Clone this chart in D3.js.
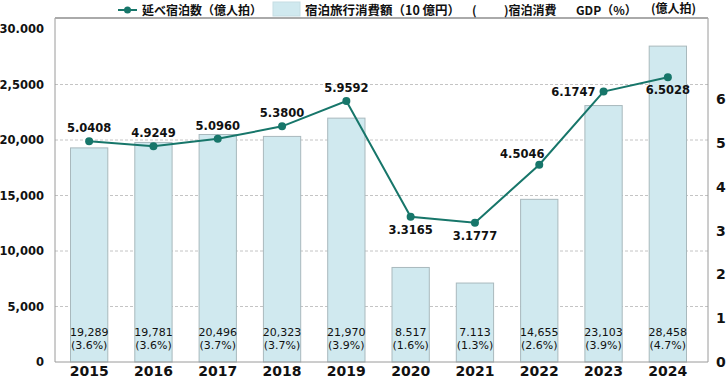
<!DOCTYPE html>
<html><head><meta charset="utf-8">
<script src="https://cdn.jsdelivr.net/npm/d3@7/dist/d3.min.js"></script>
<style>
html,body{margin:0;padding:0;background:#fff;}
svg{display:block;}
text{font-family:"DejaVu Sans",Verdana,sans-serif;}
.jp{font-family:"Noto Sans CJK JP","DejaVu Sans",sans-serif;}
</style></head>
<body><svg id="c" width="727" height="382"></svg>
<script>
const years = ["2015","2016","2017","2018","2019","2020","2021","2022","2023","2024"];
const spending = [19289, 19781, 20496, 20323, 21970, 8517, 7113, 14655, 23103, 28458];
const spendingLabels = ["19,289","19,781","20,496","20,323","21,970","8.517","7.113","14,655","23,103","28,458"];
const gdpShare = ["3.6%","3.6%","3.7%","3.7%","3.9%","1.6%","1.3%","2.6%","3.9%","4.7%"];
const nights = [5.0408, 4.9249, 5.0960, 5.3800, 5.9592, 3.3165, 3.1777, 4.5046, 6.1747, 6.5028];
const nightsLabels = ["5.0408","4.9249","5.0960","5.3800","5.9592","3.3165","3.1777","4.5046","6.1747","6.5028"];
const leftTicks = [0, 5000, 10000, 15000, 20000, 25000, 30000];
const leftTickLabels = ["0","5,000","10,000","15,000","20,000","2,5000","30.000"];
const rightTicks = [0, 1, 2, 3, 4, 5, 6];

const svg = d3.select("#c");
const L = 55, R = 708, T = 18, B = 362;
const barColor = "#d0e9ef", barStroke = "#a9b9bd", lineColor = "#17766a";

const x = d3.scaleBand().domain(years).range([57, 700]).paddingInner(0.42).paddingOuter(0.21);
const yL = d3.scaleLinear().domain([0, 30000]).range([B, 29]);
const yR = d3.scaleLinear().domain([0, 8]).range([B, B - 8 * 43.8]);

// gridlines
svg.append("g").selectAll("line").data(leftTicks.filter(d => d > 0 && d < 30000)).join("line")
  .attr("x1", L).attr("x2", R).attr("y1", d => yL(d)).attr("y2", d => yL(d))
  .attr("stroke", "#c4c4c4").attr("stroke-width", 1).attr("stroke-dasharray", "3,2");

// bars
svg.append("g").selectAll("rect").data(spending).join("rect")
  .attr("x", (d, i) => x(years[i])).attr("width", x.bandwidth())
  .attr("y", d => yL(d)).attr("height", d => B - yL(d))
  .attr("fill", barColor).attr("stroke", barStroke).attr("stroke-width", 1);

// frame
svg.append("line").attr("x1", L).attr("x2", L).attr("y1", T).attr("y2", B).attr("stroke", "#9a9a9a");
svg.append("line").attr("x1", R).attr("x2", R).attr("y1", T).attr("y2", B).attr("stroke", "#9a9a9a");
svg.append("line").attr("x1", L).attr("x2", R).attr("y1", B).attr("y2", B).attr("stroke", "#9a9a9a");
svg.append("line").attr("x1", L).attr("x2", R).attr("y1", T).attr("y2", T).attr("stroke", "#aaaaaa").attr("stroke-width", 2);

// left axis
const axL = d3.axisLeft(yL).tickValues(leftTicks).tickSize(0).tickPadding(10)
  .tickFormat((d, i) => leftTickLabels[i]);
const gL = svg.append("g").attr("transform", `translate(${L},0)`).call(axL);
gL.select(".domain").remove();
gL.selectAll("text").attr("font-size", 11.5).attr("font-weight", "bold").attr("fill", "#111")
  .attr("font-family", "DejaVu Sans").attr("dx", -1);

// right axis
const axR = d3.axisRight(yR).tickValues(rightTicks).tickSize(0).tickPadding(8).tickFormat(d3.format("d"));
const gR = svg.append("g").attr("transform", `translate(${R},0)`).call(axR);
gR.select(".domain").remove();
gR.selectAll("text").attr("font-size", 14).attr("font-weight", "bold").attr("fill", "#111")
  .attr("font-family", "DejaVu Sans");

// x axis labels
const axX = d3.axisBottom(x).tickSize(0).tickPadding(4);
const gX = svg.append("g").attr("transform", `translate(0,${B})`).call(axX);
gX.select(".domain").remove();
gX.selectAll("text").attr("font-size", 14).attr("font-weight", "bold").attr("fill", "#111")
  .attr("font-family", "DejaVu Sans");

// bar value labels
const bl = svg.append("g").attr("font-size", 11).attr("fill", "#111").attr("text-anchor", "middle");
bl.selectAll("text.v").data(spendingLabels).join("text").attr("class", "v")
  .attr("x", (d, i) => x(years[i]) + x.bandwidth() / 2).attr("y", B - 26).text(d => d);
bl.selectAll("text.p").data(gdpShare).join("text").attr("class", "p")
  .attr("x", (d, i) => x(years[i]) + x.bandwidth() / 2).attr("y", B - 13).text(d => `(${d})`);

// line
const cx = i => x(years[i]) + x.bandwidth() / 2;
const line = d3.line().x((d, i) => cx(i)).y(d => yR(d));
svg.append("path").datum(nights).attr("d", line).attr("fill", "none")
  .attr("stroke", lineColor).attr("stroke-width", 2);
svg.append("g").selectAll("circle").data(nights).join("circle")
  .attr("cx", (d, i) => cx(i)).attr("cy", d => yR(d)).attr("r", 4).attr("fill", lineColor);

// line labels
const place = ["a","a","a","a","a","b","b","al","l","b"];
svg.append("g").attr("font-size", 11.5).attr("font-weight", "bold").attr("fill", "#111")
  .selectAll("text").data(nights).join("text")
  .attr("x", (d, i) => place[i] === "l" ? cx(i) - 8 : place[i] === "al" ? cx(i) - 17 : cx(i))
  .attr("y", (d, i) => {
    const p = place[i], y0 = yR(d);
    if (p === "a") return y0 - 9;
    if (p === "b") return y0 + 17;
    if (p === "al") return y0 - 7;
    return y0 + 4;
  })
  .attr("text-anchor", (d, i) => place[i] === "l" ? "end" : "middle")
  .text((d, i) => nightsLabels[i]);

// legend
const lg = svg.append("g");
lg.append("line").attr("x1", 118).attr("x2", 137).attr("y1", 10).attr("y2", 10).attr("stroke", lineColor).attr("stroke-width", 2);
lg.append("circle").attr("cx", 127.5).attr("cy", 10).attr("r", 3.5).attr("fill", lineColor);
lg.append("text").attr("class", "jp").attr("x", 142).attr("y", 14.5).attr("font-size", 12).attr("font-weight", "bold").attr("fill", "#111").text("延べ宿泊数（億人拍）");
lg.append("rect").attr("x", 273).attr("y", 2).attr("width", 27).attr("height", 14).attr("fill", barColor).attr("stroke", "#c5dde3");
lg.append("text").attr("class", "jp").attr("x", 305).attr("y", 14.5).attr("font-size", 12.5).attr("font-weight", "bold").attr("fill", "#111").text("宿泊旅行消費額（10 億円）");
lg.append("text").attr("class", "jp").attr("x", 472).attr("y", 14.5).attr("font-size", 12).attr("font-weight", "bold").attr("fill", "#111").text("(");
lg.append("text").attr("class", "jp").attr("x", 504).attr("y", 14.5).attr("font-size", 12).attr("font-weight", "bold").attr("fill", "#111").text(")宿泊消費");
lg.append("text").attr("class", "jp").attr("x", 576).attr("y", 14.5).attr("font-size", 12).attr("font-weight", "bold").attr("fill", "#111").text("GDP（%）");
lg.append("text").attr("class", "jp").attr("x", 651).attr("y", 13).attr("font-size", 12).attr("font-weight", "bold").attr("fill", "#111").text("(億人拍)");
</script></body></html>
